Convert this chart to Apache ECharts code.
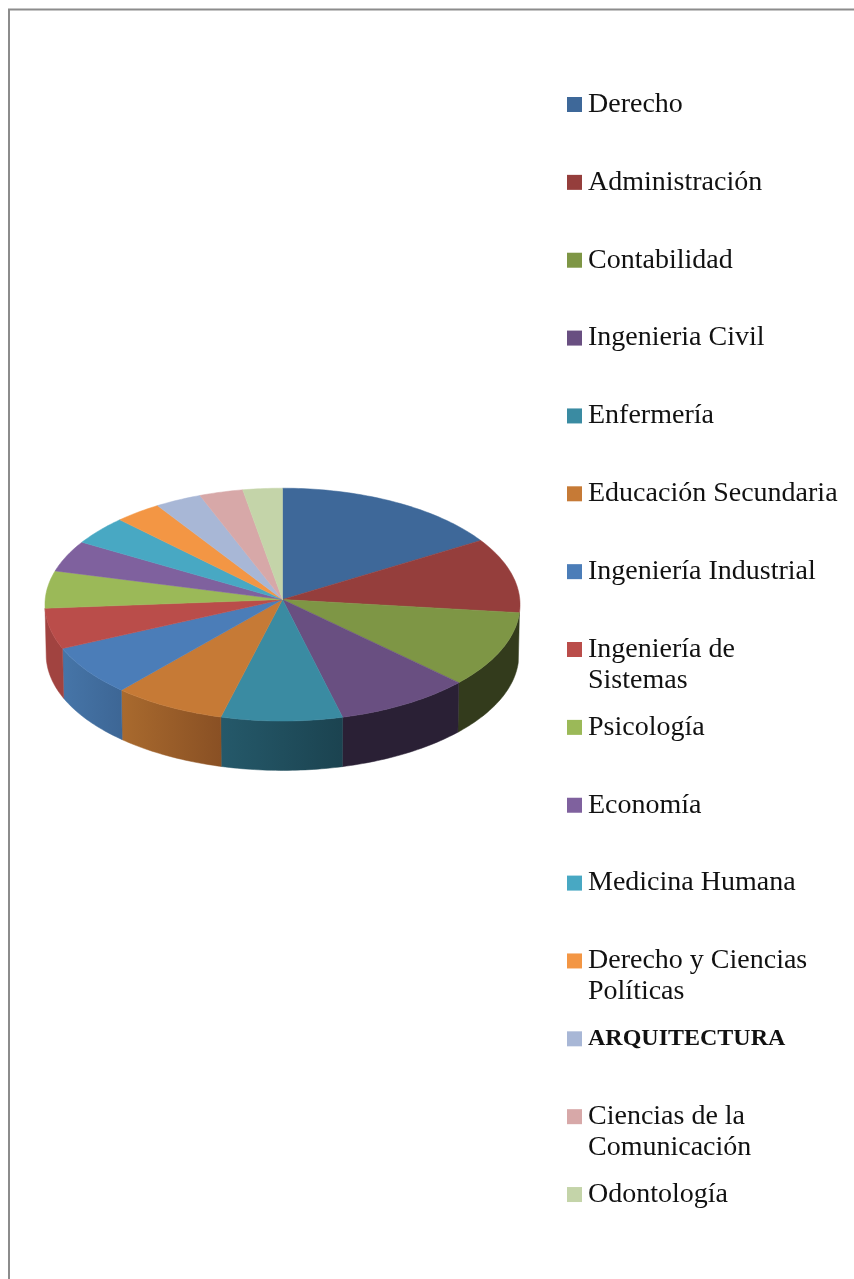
<!DOCTYPE html>
<html>
<head>
<meta charset="utf-8">
<title>Carreras</title>
<style>
    html, body { margin: 0; padding: 0; background: #fff; }
    #chart { width: 854px; height: 1279px; }
</style>
<script src="https://cdn.jsdelivr.net/npm/echarts@6/dist/echarts.min.js"></script>
</head>
<body>
<div id="chart"></div>
<script>
// values, share of the pie in percent
var categories = ['Derecho', 'Administración', 'Contabilidad', 'Ingenieria Civil', 'Enfermería',
    'Educación Secundaria', 'Ingeniería Industrial', 'Ingeniería de\nSistemas', 'Psicología', 'Economía',
    'Medicina Humana', 'Derecho y Ciencias\nPolíticas', 'ARQUITECTURA', 'Ciencias de la\nComunicación', 'Odontología'];
var values = [16.3, 10.5, 10.4, 8.9, 7.9, 7.4, 6.8, 5.6, 5.2, 4.4, 4.1, 3.3, 3.3, 3.1, 2.8];
var colors = ['#3e6899', '#953e3c', '#7e9645', '#694f81', '#3a8ba2', '#c67a36', '#4b7db8', '#ba4d4a',
    '#9bb958', '#7f619e', '#48a8c3', '#f39644', '#a8b7d6', '#d7a8a8', '#c4d4a9'];
// side wall colours, left end and right end of each slice (only the near slices show one)
var wallLeft = ['#2f5075', '#6e2e2c', '#333b1c', '#2a2035', '#25596a', '#a96a2e', '#4675a8', '#a14340',
    '#9bb958', '#7f619e', '#48a8c3', '#f39644', '#a8b7d6', '#d7a8a8', '#c4d4a9'];
var wallRight = ['#2f5075', '#6e2e2c', '#333b1c', '#2a2035', '#1b4350', '#895024', '#3d6695', '#a14340',
    '#9bb958', '#7f619e', '#48a8c3', '#f39644', '#a8b7d6', '#d7a8a8', '#c4d4a9'];

var total = values.reduce(function (a, b) { return a + b; }, 0);

// tilted disc, a little perspective so the near half looks bigger
var cx = 282.5, cy = 599.5, rx = 237.3, ry = 116.2, persp = 0.0438;
var depth = 50, bottomScale = 0.995;
// angles between which the wall shows
var wallMin = 96, wallMax = 266;

function discPoint(deg, scale, drop) {
    var t = deg * Math.PI / 180;
    var u = Math.sin(t), v = Math.cos(t);
    var w = 1 + persp * v;
    return [cx + scale * rx * u / w, cy + drop - scale * ry * v / w];
}

function arcPoints(from, to, scale, drop) {
    var pts = [];
    var n = Math.max(2, Math.ceil(Math.abs(to - from)));
    for (var i = 0; i <= n; i++) {
        pts.push(discPoint(from + (to - from) * i / n, scale, drop));
    }
    return pts;
}

function renderSlice(index) {
    var before = 0;
    for (var i = 0; i < index; i++) before += values[i];
    var start = before / total * 360;
    var end = (before + values[index]) / total * 360;
    var children = [];

    var wallFrom = Math.max(start, wallMin), wallTo = Math.min(end, wallMax);
    if (wallTo - wallFrom > 1) {
        var wall = arcPoints(wallFrom, wallTo, 1, 0).concat(arcPoints(wallTo, wallFrom, bottomScale, depth));
        var grad = new echarts.graphic.LinearGradient(0, 0, 1, 0, [
            { offset: 0, color: wallLeft[index] },
            { offset: 1, color: wallRight[index] }
        ]);
        children.push({
            type: 'polygon', z2: 1, shape: { points: wall },
            style: { fill: grad, stroke: grad, lineWidth: 0.5 }
        });
    }
    var top = [[cx, cy]].concat(arcPoints(start, end, 1, 0));
    children.push({
        type: 'polygon', z2: 10, shape: { points: top },
        style: { fill: colors[index], stroke: colors[index], lineWidth: 0.5 }
    });
    return { type: 'group', children: children };
}

var seriesList = categories.map(function (name, i) {
    return {
        type: 'custom',
        coordinateSystem: 'none',
        name: name,
        data: [[values[i]]],
        silent: true,
        animation: false,
        itemStyle: { color: colors[i] },
        renderItem: function () { return renderSlice(i); }
    };
});

var legendList = categories.map(function (name, i) {
    var wrapped = name.indexOf('\n') >= 0;
    var bold = name === 'ARQUITECTURA';
    return {
        data: [name],
        orient: 'vertical',
        left: 567,
        // a wrapped label gets an empty first line so the swatch stays on its first text line
        top: 96.5 + i * 77.86 - (wrapped ? 31 : 0) - 7.5,
        icon: 'rect',
        itemWidth: 15,
        itemHeight: 15,
        padding: 0,
        selectedMode: false,
        formatter: function (n) { return wrapped ? '\n' + n : n; },
        textStyle: {
            fontFamily: 'Liberation Serif',
            fontSize: bold ? 24 : 28,
            lineHeight: 31,
            color: '#111',
            fontWeight: bold ? 'bold' : 'normal',
            padding: [0, 0, 0, 1]
        }
    };
});

var myChart = echarts.init(document.getElementById('chart'), null, { renderer: 'canvas' });
myChart.setOption({
    animation: false,
    backgroundColor: '#fff',
    color: colors,
    tooltip: { show: false },
    legend: legendList,
    series: seriesList,
    graphic: [{
        type: 'rect',
        shape: { x: 9, y: 9.5, width: 1000, height: 1500 },
        style: { fill: 'none', stroke: '#8c8c8c', lineWidth: 2 },
        silent: true
    }]
});
</script>
</body>
</html>
